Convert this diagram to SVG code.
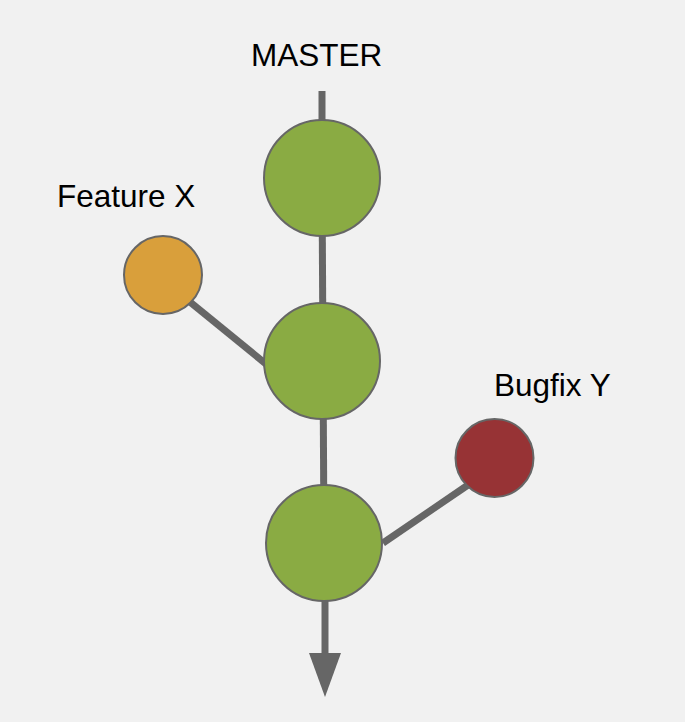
<svg xmlns="http://www.w3.org/2000/svg" width="685" height="722" viewBox="0 0 685 722">
<style>
.edge{stroke:#666666;stroke-width:7;fill:none}
.node{stroke:#666666;stroke-width:2}
.green{fill:#8aab43}
.orange{fill:#d99f3b}
.red{fill:#973335}
.lbl{font-family:"Liberation Sans",Arial,sans-serif;font-size:31.5px;fill:#000000}
</style>
<rect x="0" y="0" width="685" height="722" fill="#f1f1f1"/>
<g id="connectors">
<line class="edge" x1="322" y1="91" x2="322" y2="178"/>
<line class="edge" x1="322" y1="178" x2="323" y2="361"/>
<line class="edge" x1="323" y1="361" x2="324" y2="543"/>
<line class="edge" x1="190" y1="302" x2="266" y2="364"/>
<line class="edge" x1="383" y1="543" x2="468" y2="485"/>
<line class="edge" x1="325" y1="543" x2="325" y2="655"/>
<polygon points="309,653 341,653 325,697" fill="#666666"/>
</g>
<g id="master1"><circle class="node green" cx="322" cy="178" r="58"/></g>
<g id="master2"><circle class="node green" cx="322" cy="361" r="58"/></g>
<g id="master3"><circle class="node green" cx="324" cy="543" r="58"/></g>
<g id="featureX"><circle class="node orange" cx="163" cy="275" r="39"/></g>
<g id="bugfixY"><circle class="node red" cx="494.5" cy="458" r="39"/></g>
<g id="labels">
<text class="lbl" x="251" y="66">MASTER</text>
<text class="lbl" x="57" y="207">Feature X</text>
<text class="lbl" x="494" y="396">Bugfix Y</text>
</g>
</svg>
